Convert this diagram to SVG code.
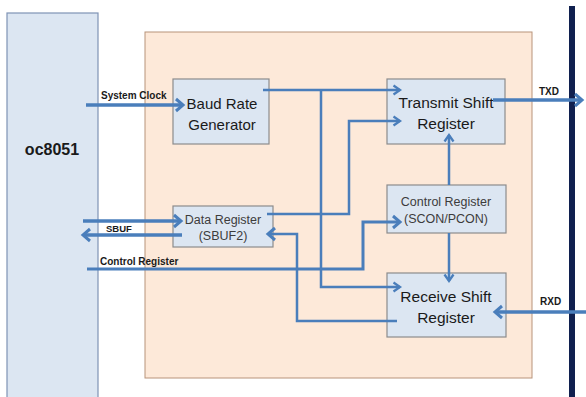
<svg xmlns="http://www.w3.org/2000/svg" width="586" height="397" viewBox="0 0 586 397">
<style>
.blk{fill:#dce6f2;stroke:#8c8c8c;stroke-width:1.2}
.lbl{font-family:"Liberation Sans",Arial,sans-serif;fill:#1a1a1a;text-anchor:middle}
.lbl2{font-family:"Liberation Sans",Arial,sans-serif;fill:#3c3c3c;text-anchor:middle;font-size:12.5px}
.sig{font-family:"Liberation Sans",Arial,sans-serif;font-weight:bold;fill:#1a1a1a;font-size:10px}
.w{fill:none;stroke:#4a7ebb;stroke-width:2.5;stroke-linejoin:miter}
.t{fill:none;stroke:#4a7ebb;stroke-width:3.5}
</style>
<defs>
<marker id="ab" viewBox="0 0 12 14" refX="9" refY="7" markerWidth="12" markerHeight="14" markerUnits="userSpaceOnUse" orient="auto" overflow="visible">
<path d="M2,1 L9,7 L2,13" fill="none" stroke="#4a7ebb" stroke-width="3"/>
</marker>
<marker id="as" viewBox="0 0 10 10" refX="8" refY="5" markerWidth="10" markerHeight="10" markerUnits="userSpaceOnUse" orient="auto" overflow="visible">
<path d="M1.5,0.5 L8,5 L1.5,9.5" fill="none" stroke="#4a7ebb" stroke-width="2.3"/>
</marker>
</defs>
<rect width="586" height="397" fill="#ffffff"/>
<g id="oc8051">
<rect x="7" y="13" width="91" height="390" fill="#dce6f2" stroke="#7f93b5" stroke-width="1.2"/>
<text x="52" y="155" class="lbl" style="font-size:16px;font-weight:bold">oc8051</text>
</g>
<g id="uart">
<rect x="145" y="32" width="387" height="346" fill="#fde9d9" stroke="#b8937a" stroke-width="1"/>
</g>
<g id="bus">
<rect x="569" y="6" width="6" height="395" fill="#10204f"/>
</g>
<g id="baud">
<rect x="173" y="79" width="96" height="65" class="blk"/>
<text x="222" y="109" class="lbl" style="font-size:15px">Baud Rate</text>
<text x="222" y="130" class="lbl" style="font-size:15px">Generator</text>
</g>
<g id="tx">
<rect x="387" y="79" width="118" height="65" class="blk"/>
<text x="446" y="108" class="lbl" style="font-size:15.5px">Transmit Shift</text>
<text x="446" y="129" class="lbl" style="font-size:15.5px">Register</text>
</g>
<g id="ctrl">
<rect x="387" y="185" width="119" height="48" class="blk"/>
<text x="446" y="206" class="lbl2">Control Register</text>
<text x="446" y="223" class="lbl2">(SCON/PCON)</text>
</g>
<g id="data">
<rect x="173" y="206" width="100" height="41" class="blk"/>
<text x="223" y="224" class="lbl2">Data Register</text>
<text x="223" y="240" class="lbl2">(SBUF2)</text>
</g>
<g id="rx">
<rect x="387" y="273" width="119" height="64" class="blk"/>
<text x="446" y="302" class="lbl" style="font-size:15.5px">Receive Shift</text>
<text x="446" y="323" class="lbl" style="font-size:15.5px">Register</text>
</g>
<g id="connectors">
<path class="t" d="M86,105 H183" marker-end="url(#ab)"/>
<path class="t" d="M83,221 H181" marker-end="url(#ab)"/>
<path class="t" d="M182,235 H83" marker-end="url(#ab)"/>
<path class="t" d="M87,269 H363 V222 H400" style="stroke-width:3" marker-end="url(#ab)"/>
<path class="t" d="M493,100 H582" marker-end="url(#ab)"/>
<path class="t" d="M586,312 H495" marker-end="url(#ab)"/>
<path class="w" d="M263,90 H400" marker-end="url(#as)"/>
<path class="w" d="M321,90 V287 H400" marker-end="url(#as)"/>
<path class="w" d="M267,214 H349 V121 H400" marker-end="url(#as)"/>
<path class="w" d="M449,185 V135" marker-end="url(#as)"/>
<path class="w" d="M449,233 V281" marker-end="url(#as)"/>
<path class="w" d="M397,321 H297 V234 H268" marker-end="url(#ab)"/>
</g>
<g id="labels">
<text x="101" y="99" class="sig">System Clock</text>
<text x="106" y="232" class="sig" style="font-size:9.5px">SBUF</text>
<text x="100" y="265" class="sig">Control Register</text>
<text x="539" y="95" class="sig">TXD</text>
<text x="540" y="305" class="sig">RXD</text>
</g>
</svg>
